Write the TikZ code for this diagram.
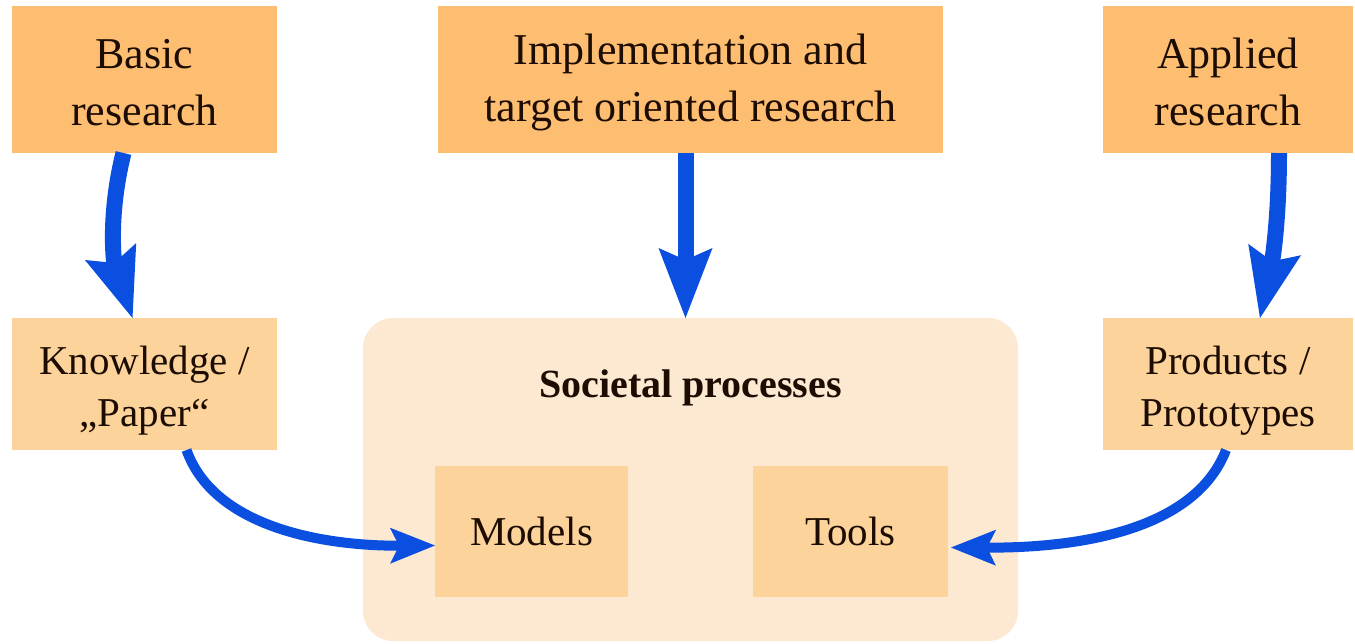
\documentclass[tikz,border=0pt]{standalone}
\usepackage{fontspec}
\setmainfont{Liberation Serif}
\usetikzlibrary{arrows.meta}
\definecolor{toporange}{HTML}{FDBE72}
\definecolor{midorange}{HTML}{FDD39C}
\definecolor{paleorange}{HTML}{FDE9D2}
\definecolor{flowblue}{HTML}{0A4FE0}
\definecolor{inkbrown}{HTML}{1C0C02}
% invisible strut that lowers a two-line label inside its box
\newcommand\toplift{\rule{0pt}{36pt}}
\newcommand\midlift{\rule{0pt}{41pt}}
\begin{document}
\begin{tikzpicture}[x=1pt,y=-1pt,
  every node/.style={inner sep=0pt,outer sep=0pt,text=inkbrown},
  topbox/.style={fill=toporange,minimum height=147pt,align=center,
    font=\fontsize{44}{57}\selectfont},
  midbox/.style={fill=midorange,minimum height=132pt,align=center,
    font=\fontsize{41}{52}\selectfont},
  innerbox/.style={fill=midorange,minimum height=131pt,
    font=\fontsize{41}{52}\selectfont},
  bigflow/.style={draw=flowblue,line width=16pt,
    -{Stealth[length=70pt,width=54pt,inset=12pt,line width=0pt]}},
  smallflow/.style={draw=flowblue,line width=10pt,
    -{Stealth[length=45pt,width=36pt,inset=9pt,line width=0pt]}}]
\useasboundingbox (0,0) rectangle (1355,643);

% research boxes along the top
\node[topbox,minimum width=265pt] (basic) at (144.5,79.5) {\toplift Basic\\research};
\node[topbox,minimum width=505pt] (impl) at (690.5,79.5)
  {\toplift Implementation and\\target oriented research};
\node[topbox,minimum width=250pt] (applied) at (1228,79.5) {\toplift Applied\\research};

% results of the research
\node[midbox,minimum width=265pt] (know) at (144.5,384) {\midlift Knowledge /\\„Paper“};
\node[midbox,minimum width=250pt] (prod) at (1228,384) {\midlift Products /\\Prototypes};

% societal processes container
\node[fill=paleorange,rounded corners=30pt,minimum width=655pt,
  minimum height=323pt] (soc) at (690.5,479.5) {};
\node[anchor=base,font=\fontsize{40}{48}\selectfont\bfseries] (soctitle)
  at (690.5,397) {Societal processes};
\node[innerbox,minimum width=193pt] (models) at (531.5,531.5) {Models};
\node[innerbox,minimum width=195pt] (tools) at (850.5,531.5) {Tools};

% flows
\draw[bigflow] ([xshift=-21pt]basic.south)
  .. controls (108,215) and (114,262) .. ([xshift=-12pt]know.north);
\draw[bigflow] ([xshift=-5pt]impl.south) -- ([xshift=-5pt]soc.north);
\draw[bigflow] ([xshift=51pt]applied.south)
  .. controls (1279,222) and (1272,262) .. ([xshift=32pt]prod.north);
\draw[smallflow] ([xshift=42pt]know.south)
  .. controls (215,530) and (330,546) .. ([yshift=-14pt]models.west);
\draw[smallflow] ([xshift=-2pt]prod.south)
  .. controls (1195,530) and (1080,548) .. ([xshift=3pt,yshift=-16pt]tools.east);
\end{tikzpicture}
\end{document}
